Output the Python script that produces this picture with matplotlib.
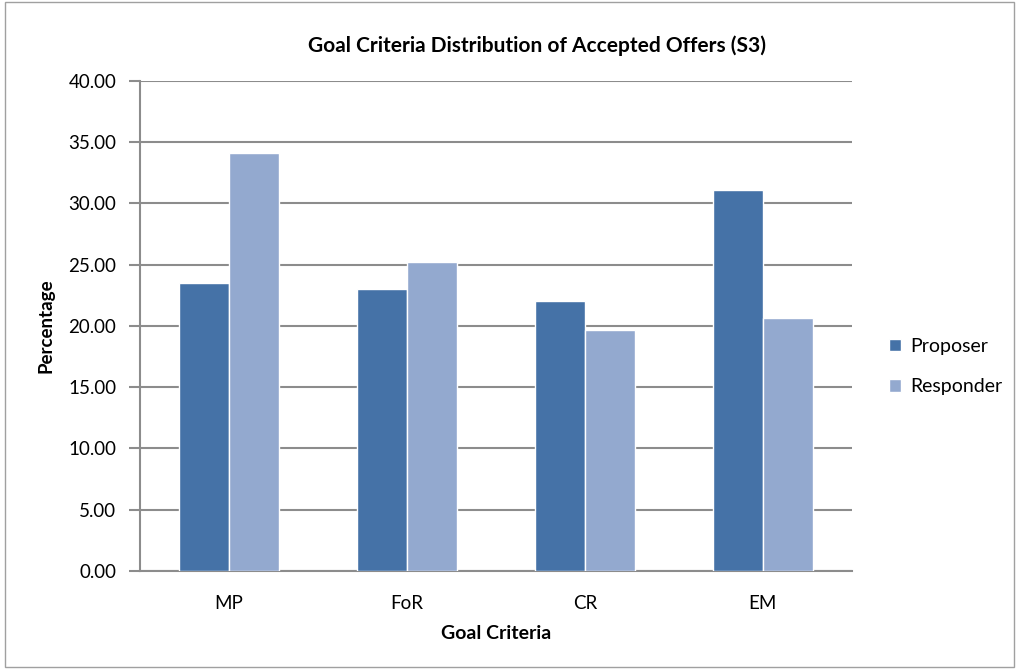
import numpy as np
import matplotlib.pyplot as plt
from matplotlib.patches import Rectangle

categories = ["MP", "FoR", "CR", "EM"]
proposer = [23.5, 23.0, 22.0, 31.1]
responder = [34.1, 25.2, 19.7, 20.65]

plt.rcParams['font.family'] = ['Lato', 'DejaVu Sans']

fig = plt.figure(figsize=(10.19, 6.69), dpi=100)
ax = fig.add_axes([0.1374, 0.1465, 0.6986, 0.7325])

x = np.arange(len(categories))
w = 0.28
ax.bar(x - w / 2, proposer, w, color='#4572A7', edgecolor='white', linewidth=1, label='Proposer', zorder=3)
ax.bar(x + w / 2, responder, w, color='#93A9CF', edgecolor='white', linewidth=1, label='Responder', zorder=3)

ax.set_xlim(-0.5, 3.5)
ax.set_ylim(0, 40)
ax.set_yticks(np.arange(0, 41, 5))
ax.set_yticklabels(["%.2f" % v for v in np.arange(0, 41, 5)], fontsize=13.5)
ax.set_xticks(x)
ax.set_xticklabels(categories, fontsize=13.5)
ax.tick_params(axis='x', length=0, pad=17)
ax.tick_params(axis='y', length=8, width=1.5, color='#8c8c8c', pad=9)
ax.yaxis.grid(True, color='#8c8c8c', linewidth=1.5, zorder=0)
for s in ['top', 'right']:
    ax.spines[s].set_visible(False)
for s in ['left', 'bottom']:
    ax.spines[s].set_color('#8c8c8c')
    ax.spines[s].set_linewidth(1.5)

fig.text(0.527, 0.931, "Goal Criteria Distribution of Accepted Offers (S3)", fontsize=15,
         fontweight='bold', ha='center', va='center')
ax.set_xlabel("Goal Criteria", fontsize=14, fontweight='bold', labelpad=10)
ax.set_ylabel("Percentage", fontsize=13.5, fontweight='bold', labelpad=10)

ax.legend(loc='center left', bbox_to_anchor=(0.865, 0.452), bbox_transform=fig.transFigure,
          frameon=False, fontsize=14, handlelength=0.6, handleheight=0.6,
          handletextpad=0.5, labelspacing=1.2, borderaxespad=0)

fig.patches.append(Rectangle((0.005, 0.003), 0.99, 0.994, transform=fig.transFigure,
                             fill=False, edgecolor='#a0a0a0', linewidth=1))

fig.savefig("out.png", dpi=100)
